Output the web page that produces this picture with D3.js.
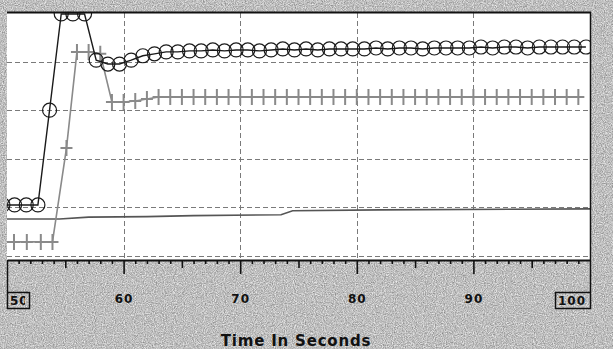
<!DOCTYPE html>
<html>
<head>
<meta charset="utf-8">
<script src="https://cdn.jsdelivr.net/npm/d3@7"></script>
<style>
  body { margin: 0; background: #c0c0c0; }
  svg { display: block; }
  .lbl { font-family: "DejaVu Sans", sans-serif; font-weight: bold; font-size: 12px; fill: #111; letter-spacing: 1px; }
</style>
</head>
<body>
<svg id="chart" width="613" height="349"></svg>
<script>
// time axis
const majorTicks = [60, 70, 80, 90];
const midTicks = [55, 65, 75, 85, 95];
const minorTicks = [51,52,53,54,56,57,58,59,61,62,63,64,66,67,68,69,71,72,73,74,76,77,78,79,
                    81,82,83,84,86,87,88,89,91,92,93,94,96,97,98,99];
const gridLevels = [0, 1, 2, 3, 4];

// circle series (sampled each second)
const circleT = [49.65,50.65,51.65,52.65,53.65,54.65,55.65,56.65,57.65,58.65,59.65,60.65,61.65,62.65,
  63.65,64.65,65.65,66.65,67.65,68.65,69.65,70.65,71.65,72.65,73.65,74.65,75.65,76.65,77.65,78.65,
  79.65,80.65,81.65,82.65,83.65,84.65,85.65,86.65,87.65,88.65,89.65,90.65,91.65,92.65,93.65,94.65,
  95.65,96.65,97.65,98.65,99.65];
const circleV = [1.05,1.05,1.05,1.05,3.00,4.98,4.98,4.98,4.03,3.95,3.95,4.03,4.12,4.16,
  4.20,4.20,4.22,4.22,4.24,4.22,4.24,4.24,4.22,4.24,4.26,4.24,4.26,4.24,4.26,4.26,
  4.26,4.26,4.28,4.26,4.28,4.28,4.26,4.28,4.28,4.28,4.28,4.30,4.28,4.30,4.30,4.28,
  4.30,4.30,4.30,4.30,4.30];

// plus series
const plusT = [49.6,50.6,51.7,52.9,53.9,55.1,56,57,58,59,60,61,62,63,64,65,66,67,68,69,70,71,72,73,74,
  75,76,77,78,79,80,81,82,83,84,85,86,87,88,89,90,91,92,93,94,95,96,97,98,99];
const plusV = [0.29,0.29,0.29,0.29,0.29,2.22,4.20,4.20,4.16,3.17,3.17,3.19,3.23,3.27,3.27,3.27,3.27,
  3.27,3.27,3.27,3.27,3.27,3.27,3.27,3.27,3.27,3.27,3.27,3.27,3.27,3.27,3.27,3.27,3.27,3.27,3.27,
  3.27,3.27,3.27,3.27,3.27,3.27,3.27,3.27,3.27,3.27,3.27,3.27,3.27,3.27];

// plain series
const plainT = [50, 54.5, 57, 62, 66, 73.5, 74.5, 82, 100];
const plainV = [0.76, 0.76, 0.80, 0.81, 0.83, 0.85, 0.93, 0.95, 0.97];

const svg = d3.select('#chart');
const W = 613, H = 349;
const pL = 7, pR = 590, pT = 13, pB = 256, axisY = 260;

const x = d3.scaleLinear().domain([50, 100]).range([pL, pR]);
const y = d3.scaleLinear().domain([0, 5]).range([pB, pT]);

const defs = svg.append('defs');
const f = defs.append('filter').attr('id', 'grain').attr('x', 0).attr('y', 0).attr('width', 1).attr('height', 1)
  .attr('color-interpolation-filters', 'sRGB');
f.append('feTurbulence').attr('type', 'fractalNoise').attr('baseFrequency', 0.9).attr('numOctaves', 2).attr('seed', 4);
f.append('feColorMatrix').attr('type', 'matrix')
  .attr('values', '0.55 0 0 0 0.47  0.55 0 0 0 0.47  0.55 0 0 0 0.47  0 0 0 0 1');
defs.append('clipPath').attr('id', 'plot')
  .append('rect').attr('x', pL).attr('y', pT).attr('width', pR - pL).attr('height', axisY - pT);

// textured background
svg.append('rect').attr('width', W).attr('height', H).attr('filter', 'url(#grain)');

// plot face
svg.append('rect').attr('x', pL).attr('y', pT).attr('width', pR - pL).attr('height', axisY - pT)
  .attr('fill', '#fff');

// grid
const grid = svg.append('g').attr('stroke', '#7a7a7a').attr('stroke-width', 1).attr('stroke-dasharray', '5,3');
grid.selectAll('line.h').data(gridLevels).join('line').attr('class', 'h')
  .attr('x1', pL).attr('x2', pR)
  .attr('y1', d => Math.round(y(d)) + 0.5).attr('y2', d => Math.round(y(d)) + 0.5);
grid.selectAll('line.v').data(majorTicks).join('line').attr('class', 'v')
  .attr('y1', pT).attr('y2', axisY)
  .attr('x1', d => Math.round(x(d)) + 0.5).attr('x2', d => Math.round(x(d)) + 0.5);

const plot = svg.append('g').attr('clip-path', 'url(#plot)');

// plain series
const plainData = plainT.map((t, i) => [t, plainV[i]]);
plot.append('path').datum(plainData)
  .attr('fill', 'none').attr('stroke', '#555').attr('stroke-width', 1.6)
  .attr('d', d3.line().x(d => x(d[0])).y(d => y(d[1])));

// plus series
const plusData = plusT.map((t, i) => [t, plusV[i]]);
plot.append('path').datum(plusData)
  .attr('fill', 'none').attr('stroke', '#8a8a8a').attr('stroke-width', 1.6)
  .attr('d', d3.line().x(d => x(d[0])).y(d => y(d[1])));
plot.append('g').attr('stroke', '#8a8a8a').attr('stroke-width', 2)
  .selectAll('path').data(plusData).join('path')
  .attr('d', d => {
    const cx = x(d[0]), cy = y(d[1]);
    return `M${cx},${cy - 8}V${cy + 8}M${cx - 6},${cy}H${cx + 6}`;
  });

// circle series
const circData = circleT.map((t, i) => [t, circleV[i]]);
plot.append('path').datum(circData)
  .attr('fill', 'none').attr('stroke', '#1a1a1a').attr('stroke-width', 1.4)
  .attr('d', d3.line().x(d => x(d[0])).y(d => y(d[1])));
plot.append('g').selectAll('circle').data(circData).join('circle')
  .attr('cx', d => x(d[0])).attr('cy', d => y(d[1])).attr('r', 7)
  .attr('fill', 'none').attr('stroke', '#1a1a1a').attr('stroke-width', 1.2);

// frame
svg.append('line').attr('x1', pL).attr('x2', pR + 1).attr('y1', 12.5).attr('y2', 12.5)
  .attr('stroke', '#111').attr('stroke-width', 2);
svg.append('line').attr('x1', pR + 0.5).attr('x2', pR + 0.5).attr('y1', 12).attr('y2', 292)
  .attr('stroke', '#111').attr('stroke-width', 1.5);
svg.append('line').attr('x1', pL + 0.5).attr('x2', pL + 0.5).attr('y1', axisY).attr('y2', 292)
  .attr('stroke', '#111').attr('stroke-width', 1.5);

// axes
const gx = svg.append('g').attr('transform', `translate(0,${axisY})`);
gx.append('g').call(d3.axisBottom(x).tickValues(minorTicks).tickSize(4).tickFormat('').tickSizeOuter(0))
  .call(g => g.select('.domain').remove());
gx.append('g').call(d3.axisBottom(x).tickValues(midTicks).tickSize(8).tickFormat('').tickSizeOuter(0))
  .call(g => g.select('.domain').remove());
const major = gx.append('g').call(d3.axisBottom(x).tickValues(majorTicks).tickSize(14).tickPadding(20).tickSizeOuter(0));
major.select('.domain').attr('stroke-width', 2.2).attr('stroke', '#111');
gx.selectAll('.tick line').attr('stroke', '#111').attr('stroke-width', 1.6);
major.attr('font-family', null).attr('font-size', null);
major.selectAll('.tick text').attr('class', 'lbl');

// boxed end labels
const endBox = [{ v: '50', x0: 7, x1: 30 }, { v: '100', x0: 555, x1: 591 }];
endBox.forEach((b, i) => {
  const cp = defs.append('clipPath').attr('id', 'eb' + i);
  cp.append('rect').attr('x', b.x0).attr('y', 292).attr('width', b.x1 - b.x0 - 5).attr('height', 17);
  svg.append('rect').attr('x', b.x0 + 0.5).attr('y', 292.5).attr('width', b.x1 - b.x0 - 1).attr('height', 16)
    .attr('fill', 'none').attr('stroke', '#111').attr('stroke-width', 1.5);
  svg.append('text').attr('class', 'lbl').attr('x', b.x0 + 3).attr('y', 305)
    .attr('letter-spacing', i ? 2 : 1)
    .attr('clip-path', `url(#eb${i})`).text(b.v);
});

// axis title
svg.append('text').attr('x', 296).attr('y', 346).attr('text-anchor', 'middle')
  .attr('font-family', '"DejaVu Sans", sans-serif').attr('font-weight', 'bold').attr('font-size', 15)
  .attr('letter-spacing', 0.8).attr('fill', '#111')
  .text('Time In Seconds');
</script>
</body>
</html>
